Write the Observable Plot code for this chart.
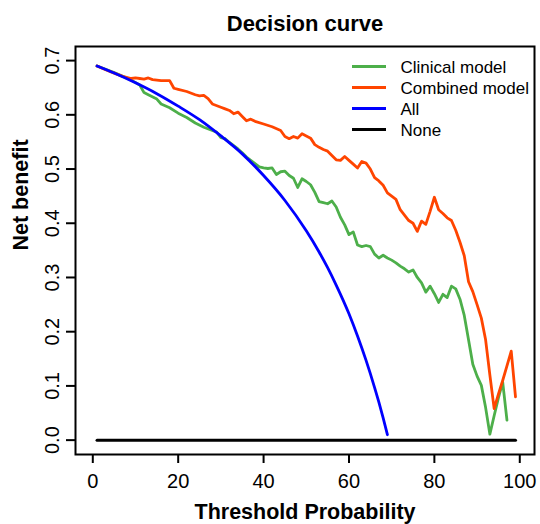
<!DOCTYPE html>
<html>
<head>
<meta charset="utf-8">
<script src="https://cdn.jsdelivr.net/npm/d3@7"></script>
<script src="https://cdn.jsdelivr.net/npm/@observablehq/plot@0.6"></script>
<style>
  html, body { margin: 0; padding: 0; background: #fff; }
  #chart { width: 540px; height: 524px; }
</style>
</head>
<body>
<div id="chart"></div>
<script>
// ---- data ----
const chartTitle = "Decision curve";
const xLabel = "Threshold Probability";
const yLabel = "Net benefit";
const seriesNames = ["Clinical model", "Combined model", "All", "None"];
const seriesColors = ["#4DAF4A", "#FF4500", "#0000FF", "#000000"];
const xTicks = [0, 20, 40, 60, 80, 100];
const yTicks = [0, 0.1, 0.2, 0.3, 0.4, 0.5, 0.6, 0.7];

// Clinical model
const clinicalT = [1,3,5,7,9,11,12,13,15,16,18,20,22,24,26,28,29,30,31,32,33,34,35,36,37,38,39,40,41,42,43,44,45,46,47,48,49,50,51,52,53,54,55,56,57,58,59,60,61,62,63,64,65,66,67,68,69,70,71,72,73,74,75,76,77,78,79,80,81,82,83,84,85,86,87,88,89,90,91,92,93,94,95,96,97];
const clinicalNB = [0.690,0.684,0.678,0.671,0.664,0.655,0.641,0.637,0.629,0.620,0.613,0.603,0.595,0.585,0.577,0.571,0.568,0.558,0.556,0.549,0.543,0.537,0.530,0.522,0.516,0.510,0.504,0.502,0.501,0.502,0.490,0.495,0.496,0.488,0.483,0.466,0.482,0.477,0.471,0.457,0.440,0.438,0.436,0.441,0.430,0.411,0.397,0.379,0.384,0.360,0.357,0.359,0.357,0.343,0.336,0.341,0.336,0.332,0.327,0.321,0.316,0.310,0.314,0.300,0.290,0.273,0.284,0.270,0.254,0.269,0.263,0.284,0.279,0.260,0.230,0.185,0.140,0.118,0.101,0.060,0.011,0.045,0.078,0.107,0.037];

// Combined model
const combinedT = [1,3,5,7,9,10,11,12,13,14,16,18,19,20,22,24,25,26,27,28,30,31,32,33,34,35,36,37,38,40,42,44,45,46,47,48,49,50,51,52,53,54,55,56,57,58,59,60,61,62,63,64,65,66,67,68,69,70,71,72,73,74,75,76,77,78,79,80,81,82,83,84,85,86,87,88,89,90,91,92,93,94,95,96,97,98,99];
const combinedNB = [0.690,0.683,0.677,0.671,0.667,0.668,0.667,0.666,0.668,0.665,0.663,0.663,0.649,0.647,0.643,0.637,0.635,0.636,0.630,0.620,0.614,0.611,0.608,0.602,0.605,0.597,0.589,0.592,0.588,0.583,0.578,0.571,0.560,0.556,0.560,0.557,0.565,0.561,0.557,0.545,0.540,0.536,0.533,0.525,0.517,0.516,0.523,0.516,0.509,0.502,0.514,0.511,0.500,0.484,0.478,0.470,0.456,0.450,0.444,0.425,0.415,0.405,0.400,0.385,0.404,0.398,0.422,0.448,0.425,0.418,0.410,0.405,0.387,0.365,0.340,0.292,0.274,0.250,0.225,0.185,0.120,0.058,0.085,0.110,0.137,0.164,0.080];

// Treat all
const allT = [1,5,10,15,20,25,30,35,40,45,50,53,55,57,60,62,64,66,67,68,69];
const allNB = [0.690,0.677,0.659,0.639,0.616,0.591,0.561,0.528,0.488,0.442,0.386,0.347,0.318,0.286,0.233,0.192,0.147,0.097,0.070,0.041,0.010];

// Treat none
const noneT = [1, 99];
const noneNB = [0, 0];

// ---- build tables ----
const toRows = (ts, vs) => ts.map((t, i) => ({t, nb: vs[i]}));
const seriesData = [
  toRows(clinicalT, clinicalNB),
  toRows(combinedT, combinedNB),
  toRows(allT, allNB),
  toRows(noneT, noneNB)
];

const W = 540, H = 524;
const mL = 75, mR = 6, mT = 46, mB = 70;
const font = "'Liberation Sans', Arial, Helvetica, sans-serif";

const lineMark = (i, w, curve = "linear") => Plot.line(seriesData[i], {
  x: "t", y: "nb", stroke: seriesColors[i], strokeWidth: w, curve,
  strokeLinejoin: "round", strokeLinecap: "round"
});

const chart = Plot.plot({
  width: W, height: H,
  marginLeft: mL, marginRight: mR, marginTop: mT, marginBottom: mB,
  style: {fontFamily: font, background: "#fff", color: "#000", overflow: "visible"},
  x: {domain: [-4.05, 103.45]},
  y: {domain: [-0.0265, 0.726]},
  marks: [
    lineMark(0, 2.8),
    lineMark(1, 2.8),
    lineMark(2, 2.8, "monotone-x"),
    lineMark(3, 3),
    Plot.frame({stroke: "#000", strokeWidth: 2}),
    Plot.axisX(xTicks, {
      anchor: "bottom", tickSize: 9, tickPadding: 10, fontSize: 20,
      strokeWidth: 2, label: null, tickFormat: d3.format("d")
    }),
    Plot.axisY(yTicks, {
      anchor: "left", tickSize: 9, tickPadding: 8, tickRotate: -90, fontSize: 20,
      strokeWidth: 2, label: null, tickFormat: d3.format(".1f")
    }),
    Plot.text([chartTitle], {
      text: d => d, frameAnchor: "top", lineAnchor: "bottom", dy: -16,
      fontSize: 22, fontWeight: "bold", fill: "#000"
    }),
    Plot.text([xLabel], {
      text: d => d, frameAnchor: "bottom", lineAnchor: "bottom", dy: 64.5,
      fontSize: 21.5, fontWeight: "bold", fill: "#000"
    }),
    Plot.text([yLabel], {
      text: d => d, frameAnchor: "left", lineAnchor: "bottom", rotate: -90, dx: -48,
      fontSize: 21.5, fontWeight: "bold", fill: "#000"
    })
  ]
});

// ---- legend (top-right, inside the frame) ----
const svg = d3.select(chart.tagName.toLowerCase() === "svg" ? chart : chart.querySelector("svg"));
const lg = svg.append("g").attr("class", "legend")
  .attr("font-family", font).attr("text-anchor", "start");
const legX0 = 352, legX1 = 386, legTextX = 400.5, legTop = 73, legStep = 21;
seriesNames.forEach((name, i) => {
  const base = legTop + i * legStep;
  lg.append("line")
    .attr("x1", legX0).attr("x2", legX1)
    .attr("y1", base - 6.5).attr("y2", base - 6.5)
    .attr("stroke", seriesColors[i]).attr("stroke-width", 3);
  lg.append("text")
    .attr("x", legTextX).attr("y", base)
    .attr("font-size", 17).attr("fill", "#000")
    .attr("text-anchor", "start")
    .text(name);
});

document.getElementById("chart").appendChild(chart);
</script>
</body>
</html>
